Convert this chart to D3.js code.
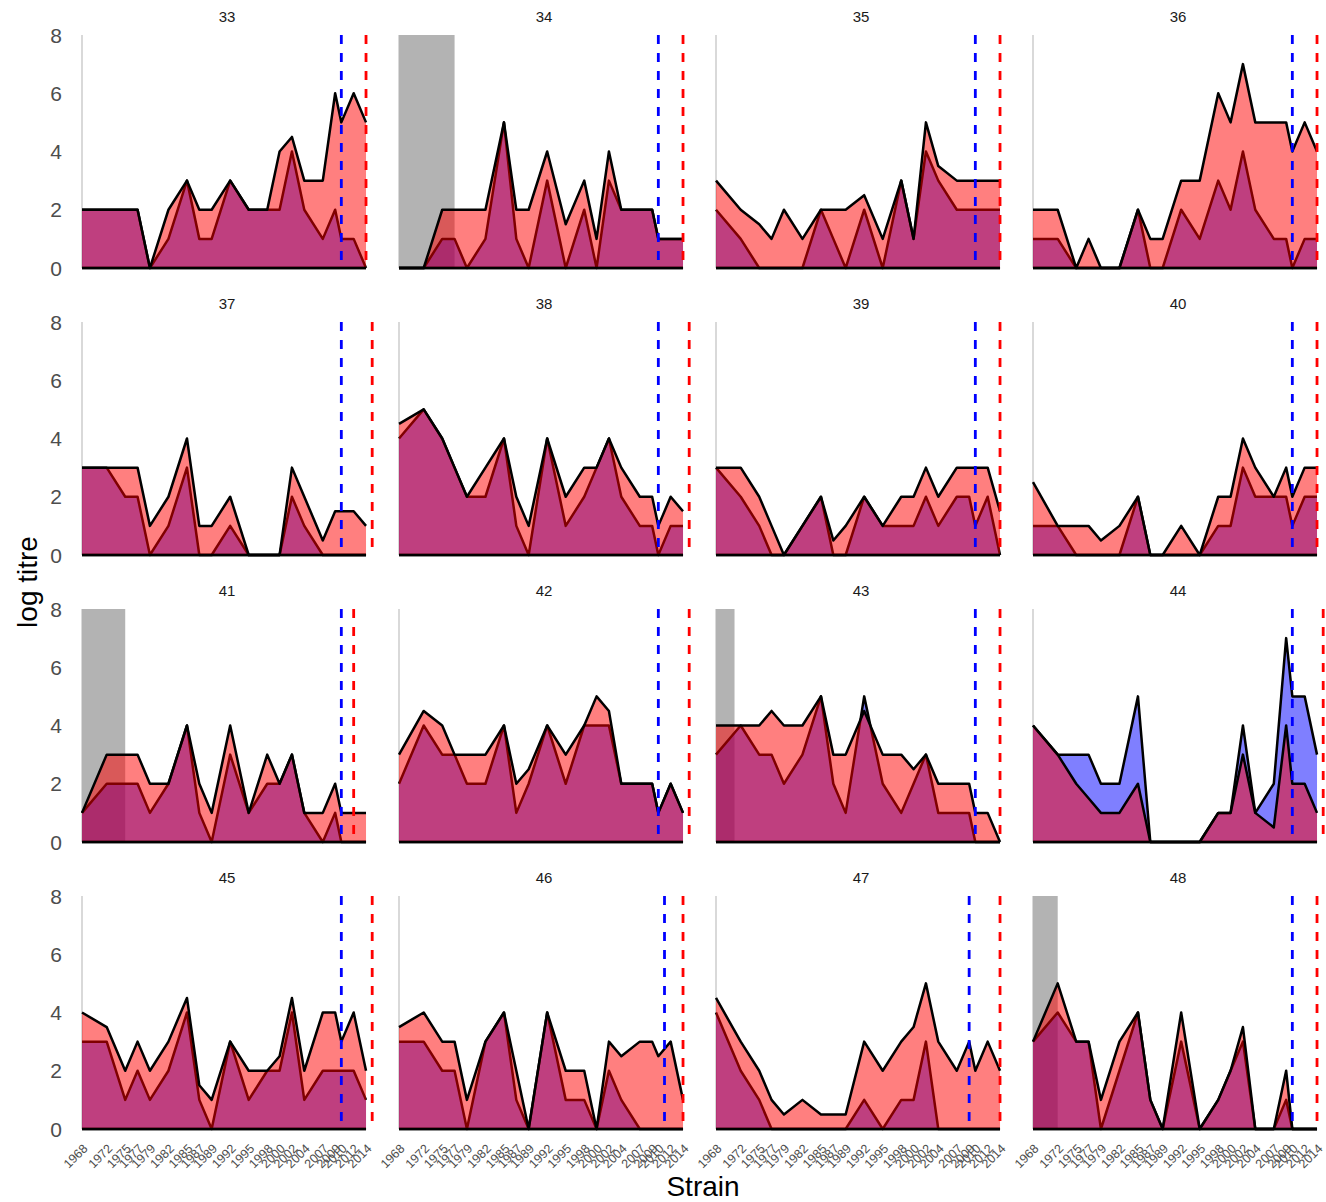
<!DOCTYPE html>
<html>
<head>
<meta charset="utf-8">
<script src="https://cdn.jsdelivr.net/npm/d3@7"></script>
<style>
  html, body { margin: 0; padding: 0; background: #ffffff; }
  svg { display: block; font-family: "Liberation Sans", Arial, sans-serif; }
</style>
</head>
<body>
<svg id="chart" width="1326" height="1202"></svg>
<script>
// ---------------- DATA ----------------
const strainYears = [1968,1972,1975,1977,1979,1982,1985,1987,1989,1992,1995,1998,2000,2002,2004,2007,2009,2010,2012,2014];
const tickLabels = strainYears.map(String);
const panelIds = ["33","34","35","36","37","38","39","40","41","42","43","44","45","46","47","48"];
const yTicks = [0, 2, 4, 6, 8];

// "red" series (drawn on top)
const redTitres = [
  [2,2,2,2,0,2,3,2,2,3,2,2,4,4.5,3,3,6,5,6,5],          // 33
  [0,0,2,2,2,2,5,2,2,4,1.5,3,1,4,2,2,2,1,1,1],          // 34
  [3,2,1.5,1,2,1,2,2,2,2.5,1,3,1,5,3.5,3,3,3,3,3],      // 35
  [2,2,0,1,0,0,2,1,1,3,3,6,5,7,5,5,5,4,5,4],            // 36
  [3,3,3,3,1,2,4,1,1,2,0,0,0,3,2,0.5,1.5,1.5,1.5,1],    // 37
  [4.5,5,4,3,2,3,4,2,1,4,2,3,3,4,3,2,2,1,2,1.5],        // 38
  [3,3,2,1,0,1,2,0.5,1,2,1,2,2,3,2,3,3,3,3,1.5],        // 39
  [2.5,1,1,1,0.5,1,2,0,0,1,0,2,2,4,3,2,3,2,3,3],        // 40
  [1,3,3,3,2,2,4,2,1,4,1,3,2,3,1,1,2,1,1,1],            // 41
  [3,4.5,4,3,3,3,4,2,2.5,4,3,4,5,4.5,2,2,2,1,2,1],      // 42
  [4,4,4,4.5,4,4,5,3,3,4.5,3,3,2.5,3,2,2,2,1,1,0],      // 43
  [4,3,2,1.5,1,1,2,0,0,0,0,1,1,3,1,0.5,4,2,2,1],        // 44
  [4,3.5,2,3,2,3,4.5,1.5,1,3,2,2,2.5,4.5,2,4,4,3,4,2],  // 45
  [3.5,4,3,3,1,3,4,2,0,4,2,2,0,3,2.5,3,3,2.5,3,1],      // 46
  [4.5,3,2,1,0.5,1,0.5,0.5,0.5,3,2,3,3.5,5,3,2,3,2,3,2],// 47
  [3,5,3,3,1,3,4,1,0,4,0,1,2,3.5,0,0,2,0,0,0]           // 48
];

// "blue" series (drawn underneath)
const blueTitres = [
  [2,2,2,2,0,1,3,1,1,3,2,2,2,4,2,1,2,1,1,0],            // 33
  [0,0,1,1,0,1,5,1,0,3,0,2,0,3,2,2,2,1,1,1],            // 34
  [2,1,0,0,0,0,2,1,0,2,0,3,1,4,3,2,2,2,2,2],            // 35
  [1,1,0,0,0,0,2,0,0,2,1,3,2,4,2,1,1,0,1,1],            // 36
  [3,3,2,2,0,1,3,0,0,1,0,0,0,2,1,0,0,0,0,0],            // 37
  [4,5,4,3,2,2,4,1,0,4,1,2,3,4,2,1,1,0,1,1],            // 38
  [3,2,1,0,0,1,2,0,0,2,1,1,1,2,1,2,2,1,2,0],            // 39
  [1,1,0,0,0,0,2,0,0,0,0,1,1,3,2,2,2,1,2,2],            // 40
  [1,2,2,2,1,2,4,1,0,3,1,2,2,3,1,0,1,0,0,0],            // 41
  [2,4,3,3,2,2,4,1,2,4,2,4,4,4,2,2,2,1,2,1],            // 42
  [3,4,3,3,2,3,5,2,1,5,2,1,2,3,1,1,1,0,0,0],            // 43
  [4,3,3,3,2,2,5,0,0,0,0,1,1,4,1,2,7,5,5,3],            // 44
  [3,3,1,2,1,2,4,1,0,3,1,2,2,4,1,2,2,2,2,1],            // 45
  [3,3,2,2,0,3,4,1,0,4,1,1,0,2,1,0,0,0,0,0],            // 46
  [4,2,1,0,0,0,0,0,0,1,0,1,1,3,0,0,0,0,0,0],            // 47
  [3,4,3,3,0,2,4,1,0,3,0,1,2,3,0,0,1,0,0,0]             // 48
];

// grey shading from 1968 to birth year (null = none)
const birthYears = [null,1977,null,null,null,null,null,null,1975,null,1971,null,null,null,null,1972];
// vertical dashed markers
const blueMarkYears = [2010,2010,2010,2010,2010,2010,2010,2010,2010,2010,2010,2010,2010,2011,2009,2010];
const redMarkYears  = [2014,2014,2014,2014,2015,2015,2014,2014,2012,2015,2014,2015,2015,2014,2014,2014];

// ---------------- LAYOUT ----------------
const svg = d3.select("#chart");
const panelW = 290.2, panelH = 233;
const colLeft = [82, 399, 716, 1033];
const rowTop = [35, 322, 609, 896];

const x = d3.scaleLinear().domain([1968, 2015]).range([0, panelW]);
const y = d3.scaleLinear().domain([0, 8]).range([panelH, 0]);

const area = d3.area().x((d, i) => x(strainYears[i])).y0(y(0)).y1(d => y(d));
const line = d3.line().x((d, i) => x(strainYears[i])).y(d => y(d));
const firstYear = strainYears[0], lastYear = strainYears[strainYears.length - 1];

panelIds.forEach((id, p) => {
  const col = p % 4, row = Math.floor(p / 4);
  const g = svg.append("g").attr("transform", `translate(${colLeft[col]},${rowTop[row]})`);

  // panel title
  g.append("text")
    .attr("x", panelW / 2).attr("y", -13)
    .attr("text-anchor", "middle")
    .attr("font-size", 15).attr("fill", "#1a1a1a")
    .text(id);

  // y axis line
  g.append("line")
    .attr("x1", 0).attr("x2", 0).attr("y1", y(8)).attr("y2", y(0))
    .attr("stroke", "#b3b3b3").attr("stroke-width", 1);

  // grey shading
  if (birthYears[p] !== null) {
    g.append("rect")
      .attr("x", x(1968)).attr("y", y(8))
      .attr("width", x(birthYears[p]) - x(1968))
      .attr("height", y(0) - y(8))
      .attr("fill", "#b3b3b3");
  }

  const drawSeries = (vals, fill) => {
    g.append("path").datum(vals).attr("d", area)
      .attr("fill", fill).attr("fill-opacity", 0.5).attr("stroke", "none");
    g.append("path").datum(vals).attr("d", line)
      .attr("fill", "none").attr("stroke", "#000").attr("stroke-width", 2.5)
      .attr("stroke-linejoin", "round");
    g.append("line")
      .attr("x1", x(firstYear)).attr("x2", x(lastYear))
      .attr("y1", y(0)).attr("y2", y(0))
      .attr("stroke", "#000").attr("stroke-width", 2.5);
  };
  drawSeries(blueTitres[p], "#0000ff");
  drawSeries(redTitres[p], "#ff0000");

  // dashed markers
  [[blueMarkYears[p], "#0000ff"], [redMarkYears[p], "#ff0000"]].forEach(([yr, c]) => {
    g.append("line")
      .attr("x1", x(yr)).attr("x2", x(yr)).attr("y1", y(8)).attr("y2", y(0))
      .attr("stroke", c).attr("stroke-width", 2.8).attr("stroke-dasharray", "9,9");
  });

  // y tick labels (first column only)
  if (col === 0) {
    yTicks.forEach(t => {
      g.append("text")
        .attr("x", -20).attr("y", y(t))
        .attr("dy", "0.36em")
        .attr("text-anchor", "end")
        .attr("font-size", 21).attr("fill", "#4d4d4d")
        .text(t);
    });
  }

  // x tick labels (bottom row only)
  if (row === 3) {
    strainYears.forEach((yr, i) => {
      g.append("text")
        .attr("transform", `translate(${x(yr)},${panelH + 14}) rotate(-45)`)
        .attr("text-anchor", "end")
        .attr("dy", "0.72em")
        .attr("font-size", 12.5).attr("fill", "#4d4d4d")
        .text(tickLabels[i]);
    });
  }
});

// axis titles
svg.append("text")
  .attr("x", 703).attr("y", 1196)
  .attr("text-anchor", "middle")
  .attr("font-size", 28).attr("fill", "#000")
  .text("Strain");

svg.append("text")
  .attr("transform", "translate(37,582) rotate(-90)")
  .attr("text-anchor", "middle")
  .attr("font-size", 28).attr("fill", "#000")
  .text("log titre");
</script>
</body>
</html>
